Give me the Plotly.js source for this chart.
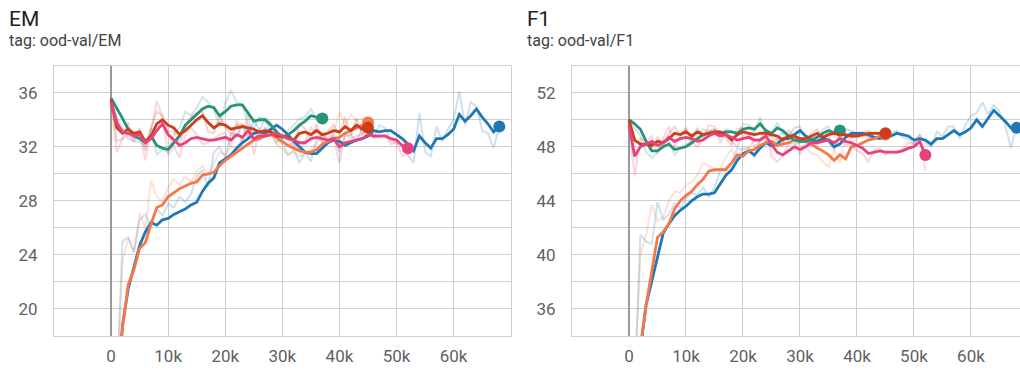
<!DOCTYPE html>
<html><head><meta charset="utf-8">
<script src="https://cdn.plot.ly/plotly-3.0.1.min.js"></script>
<style>html,body{margin:0;padding:0;background:#fff;}#chart{width:1020px;height:370px;}</style>
</head><body><div id="chart"></div>
<script>
// ---- data (steps in thousands, one value per 1k steps) ----
const runNames = ['blue', 'orange', 'teal', 'red', 'magenta'];
const runColors = {blue:'#2077b6', orange:'#f4794a', teal:'#27937b', red:'#cc3e1a', magenta:'#e8427a'};
const runStartK = {blue:1, orange:1, teal:0, red:0, magenta:0};

const xTickVals = [-10000,0,10000,20000,30000,40000,50000,60000,70000];
const xTickText = ['', '0','10k','20k','30k','40k','50k','60k',''];

// EM smoothed / raw
const emBlueS = [13.5,18.8,21.5,23.1,24.7,25.7,26.4,26.2,26.6,26.7,
27.0,27.2,27.4,27.7,27.9,28.7,29.3,29.7,30.8,31.1,
31.4,31.9,32.3,32.6,33.0,33.1,33.0,33.3,33.6,33.3,
32.9,32.4,32.0,31.6,31.5,31.5,31.9,32.3,32.5,32.4,
32.1,32.3,32.5,32.6,32.8,33.2,33.1,33.2,33.2,32.9,
32.6,32.2,31.7,32.8,32.3,31.9,32.6,32.6,32.9,33.3,
34.4,33.9,34.3,34.8,34.2,33.7,33.1,33.5];
const emBlueR = [14.0,25.0,25.3,24.2,26.6,27.0,26.1,27.4,26.9,27.8,
27.5,28.3,27.9,28.5,29.8,30.3,29.0,31.6,32.0,31.2,
33.0,32.8,33.6,32.6,34.0,33.2,34.1,33.8,32.6,32.2,
31.4,31.8,30.8,31.6,30.9,32.6,32.9,32.3,33.0,31.6,
32.8,32.9,32.4,33.4,33.8,32.7,33.6,33.4,32.4,32.3,
32.0,31.4,30.8,34.5,31.6,31.3,33.5,32.4,33.3,34.0,
36.1,33.6,35.3,35.0,33.2,33.0,31.9,33.5];
const emOrangeS = [13.5,18.6,21.8,22.9,24.5,24.9,26.3,27.5,27.7,28.3,
28.6,28.9,29.1,29.3,29.4,29.9,30.0,30.1,30.6,31.0,
31.3,31.6,31.9,32.2,32.5,32.6,32.8,32.9,32.7,32.4,
32.1,31.9,31.7,31.6,31.6,31.8,32.2,32.4,32.6,32.7,
33.0,33.2,33.4,33.6,33.8];
const emOrangeR = [14.5,23.5,25.2,24.2,27.1,25.9,29.5,28.3,28.0,29.0,
29.6,29.2,29.8,29.4,30.2,30.6,29.9,30.8,31.6,31.4,
32.0,31.9,32.6,32.9,33.0,32.6,33.4,33.1,32.2,31.8,
31.4,31.6,31.3,31.5,31.8,32.2,33.0,32.6,33.1,34.6,
33.6,34.4,33.9,34.1,33.8];
const emTealS = [35.6,34.9,34.1,33.3,32.8,32.6,32.3,32.8,32.1,31.9,
31.8,32.3,32.8,33.6,34.0,34.4,34.8,35.0,34.9,34.3,
34.6,35.0,35.1,35.1,34.5,33.9,34.0,34.0,33.6,33.1,
32.7,32.9,33.2,33.6,33.9,34.3,34.2,34.1];
const emTealR = [35.6,34.2,33.4,32.6,32.4,32.4,32.0,33.4,31.4,31.8,
31.6,33.0,33.4,34.6,34.3,34.9,35.7,35.3,34.8,33.5,
35.2,36.2,35.3,35.1,33.6,33.4,34.2,34.0,33.0,32.6,
32.3,33.2,33.6,34.1,34.2,34.8,34.0,34.1];
const emRedS = [35.5,33.4,33.0,33.3,33.0,33.1,32.4,32.8,33.7,34.0,
33.6,33.4,32.9,33.2,33.6,34.0,34.3,33.8,33.4,33.7,
33.6,33.3,33.4,33.5,33.4,33.3,33.1,33.2,33.1,32.8,
32.8,32.7,32.5,33.0,33.1,32.9,33.2,32.9,33.0,33.2,
33.1,33.5,33.2,33.6,33.3,33.4];
const emRedR = [35.5,32.4,32.6,33.8,32.5,33.4,31.7,33.4,34.6,34.3,
33.1,33.2,32.2,33.6,34.2,34.5,34.6,33.1,33.0,34.3,
33.4,32.9,33.6,33.7,33.2,33.1,32.7,33.4,32.9,32.3,
32.9,32.5,32.1,33.7,33.3,32.5,33.7,32.4,33.2,33.6,
32.9,34.2,32.8,34.1,32.9,33.5];
const emMagentaS = [35.3,33.8,33.1,33.0,32.8,32.9,32.3,32.6,33.2,33.7,
32.9,32.5,32.1,32.3,32.6,32.7,32.6,32.5,32.5,32.6,
32.7,32.5,32.9,32.7,33.2,32.6,32.8,32.8,32.9,33.0,
32.8,32.6,32.5,32.3,32.3,32.6,32.7,32.6,32.5,32.6,
32.0,32.3,32.4,32.5,32.6,32.9,32.8,32.8,32.8,32.6,
32.5,32.1,31.9];
const emMagentaR = [35.3,31.6,32.6,32.9,32.4,33.1,31.0,33.2,35.4,34.2,
31.4,32.0,31.2,32.9,33.4,32.9,32.2,32.3,32.6,32.9,
33.0,32.0,34.0,32.2,34.6,31.4,33.3,32.8,33.2,33.3,
32.3,32.1,32.3,31.8,32.4,33.4,32.9,32.3,32.4,32.8,
30.8,33.0,32.6,32.8,32.9,33.6,32.6,32.8,32.8,32.2,
32.3,31.3,31.5];

// F1 smoothed / raw
const f1BlueS = [28.0,33.0,36.3,38.1,39.9,41.6,42.3,42.9,43.3,43.6,
44.0,44.3,44.5,44.5,44.6,45.3,45.9,46.3,47.0,47.5,
47.7,47.4,47.9,48.3,48.1,48.2,48.6,48.6,48.9,49.2,
48.8,48.5,48.4,48.6,48.5,48.0,48.2,48.7,49.0,49.0,
49.0,48.9,48.7,48.6,48.7,48.8,49.0,48.9,48.8,48.5,
48.6,48.5,48.2,48.6,48.6,48.9,49.2,48.9,49.1,49.4,
50.0,49.5,50.1,50.7,50.3,49.9,49.4,49.4];
const f1BlueR = [30.0,41.5,41.0,40.8,43.9,42.6,43.0,43.8,43.5,44.2,
44.6,44.4,45.0,44.3,45.0,46.2,46.5,46.8,47.9,47.8,
47.9,47.2,48.6,48.7,48.0,48.6,49.1,48.8,49.4,49.5,
48.4,48.3,48.6,48.9,48.3,47.8,48.7,49.3,49.2,49.0,
49.1,48.7,48.5,48.7,48.9,49.0,49.2,48.7,48.6,48.2,
48.9,48.3,48.0,49.1,48.8,49.5,49.5,48.6,49.6,50.3,
50.5,51.3,50.4,51.1,50.6,49.6,47.9,49.6];
const f1OrangeS = [28.0,33.2,36.3,38.8,41.3,41.7,42.3,43.4,44.0,44.4,
44.7,45.2,45.6,46.2,46.3,46.3,46.3,46.8,47.4,47.3,
47.7,47.8,48.1,48.3,48.4,48.1,48.2,48.3,48.5,48.6,
48.4,48.2,47.9,47.7,47.4,47.0,47.4,47.1,48.0,48.1,
48.3,48.5,48.6,48.8,48.9];
const f1OrangeR = [31.0,40.0,41.5,43.7,42.5,42.8,44.0,44.7,44.6,45.2,
45.4,45.9,46.8,46.6,46.2,46.4,47.2,47.8,47.1,48.0,
47.9,48.5,48.6,48.5,47.9,48.4,48.6,48.8,48.7,48.1,
48.0,47.5,47.4,46.9,46.5,47.8,46.8,48.9,48.3,48.6,
48.8,48.7,49.1,49.0,48.9];
const f1TealS = [50.0,49.7,49.3,48.4,47.7,47.7,48.0,48.2,47.8,47.9,
48.0,48.3,48.6,48.9,49.0,49.1,49.0,49.1,49.1,49.0,
49.3,49.4,49.3,49.7,49.2,49.0,49.4,49.2,48.8,48.5,
48.4,48.4,48.5,48.7,49.0,49.2,49.0,49.2];
const f1TealR = [50.0,49.4,48.8,47.6,47.2,47.6,48.4,48.4,47.4,47.9,
48.1,48.7,48.9,49.3,49.1,49.3,48.8,49.3,49.2,48.8,
49.7,49.6,49.1,50.2,48.8,48.8,49.8,49.0,48.3,48.2,
48.3,48.4,48.7,48.9,49.3,49.5,48.8,49.3];
const f1RedS = [50.0,48.5,48.2,48.2,48.1,48.4,48.3,48.6,49.0,48.9,
49.1,48.8,49.1,48.9,49.0,49.1,49.1,48.9,48.5,48.9,
49.1,49.0,48.9,49.0,49.0,48.9,48.8,48.5,48.8,48.8,
48.6,48.6,48.8,49.0,48.7,48.9,49.0,48.9,48.9,48.8,
48.8,48.9,49.0,49.0,49.0,49.0];
const f1RedR = [50.0,47.6,48.0,48.3,47.9,48.7,48.1,49.0,49.5,48.8,
49.4,48.5,49.4,48.7,49.2,49.3,49.1,48.6,48.1,49.3,
49.4,48.9,48.8,49.1,49.1,48.7,48.6,48.1,49.2,48.8,
48.3,48.6,49.0,49.3,48.4,49.1,49.2,48.7,48.9,48.6,
48.8,49.0,49.2,49.0,48.9,49.0];
const f1MagentaS = [49.6,47.3,48.0,48.2,48.4,48.1,48.3,48.7,48.4,48.6,
48.7,48.6,48.4,48.5,48.8,49.0,48.8,48.9,48.7,48.5,
48.6,48.7,48.5,48.5,48.8,48.2,47.6,47.4,47.7,48.0,
47.8,48.0,48.3,48.3,48.4,48.5,48.3,48.6,48.4,48.3,
48.1,47.9,47.5,47.6,47.7,47.6,47.6,47.6,47.7,47.9,
48.0,48.4,47.4];
const f1MagentaR = [49.6,45.8,48.6,48.4,48.8,47.5,48.6,49.5,48.0,48.9,
49.3,48.4,48.0,48.6,49.6,49.5,48.3,49.2,48.4,48.0,
48.8,49.0,48.0,48.4,49.4,47.3,46.9,47.3,48.2,48.5,
47.4,48.3,48.8,48.1,48.7,48.8,47.9,49.0,48.1,48.2,
47.7,47.5,46.9,47.8,47.9,47.4,47.6,47.5,47.9,48.3,
48.2,48.9,46.2];

const emData = {
  blue:[emBlueS, emBlueR], orange:[emOrangeS, emOrangeR], teal:[emTealS, emTealR],
  red:[emRedS, emRedR], magenta:[emMagentaS, emMagentaR]
};
const f1Data = {
  blue:[f1BlueS, f1BlueR], orange:[f1OrangeS, f1OrangeR], teal:[f1TealS, f1TealR],
  red:[f1RedS, f1RedR], magenta:[f1MagentaS, f1MagentaR]
};

function stepsFor(run, n) {
  const out = [];
  for (let i = 0; i < n; i++) out.push((runStartK[run] + i) * 1000);
  return out;
}

const traces = [];
function addPanel(data, xa, ya) {
  // raw (faint) first
  runNames.forEach(r => {
    const raw = data[r][1];
    traces.push({x: stepsFor(r, raw.length), y: raw, xaxis: xa, yaxis: ya, type: 'scatter', mode: 'lines',
      line: {color: runColors[r], width: 2}, opacity: 0.22, hoverinfo: 'skip', showlegend: false});
  });
  runNames.forEach(r => {
    const sm = data[r][0];
    const xs = stepsFor(r, sm.length);
    traces.push({x: xs, y: sm, xaxis: xa, yaxis: ya, type: 'scatter', mode: 'lines',
      line: {color: runColors[r], width: 2.8}, hoverinfo: 'skip', showlegend: false});
    traces.push({x: [xs[xs.length - 1]], y: [sm[sm.length - 1]], xaxis: xa, yaxis: ya, type: 'scatter', mode: 'markers',
      marker: {color: runColors[r], size: 12}, hoverinfo: 'skip', showlegend: false});
  });
}
addPanel(emData, 'x', 'y');
addPanel(f1Data, 'x2', 'y2');

const gridC = '#cfcfcf';
const tickFont = {family: 'Roboto, sans-serif', size: 17, color: '#616161'};
function xAxis(domain, range, anchor) {
  return {domain: domain, range: range, anchor: anchor, tickvals: xTickVals, ticktext: xTickText,
    showgrid: true, gridcolor: gridC, gridwidth: 1, zeroline: true, zerolinecolor: '#9a9a9a', zerolinewidth: 2,
    showline: true, mirror: true, linecolor: gridC, linewidth: 1, ticks: '', tickfont: tickFont,
    ticklabelstandoff: 5, fixedrange: true};
}
function yAxis(range, anchor) {
  return {domain: [1 - 336/370, 1 - 65.7/370], range: range, anchor: anchor, dtick: 4, tick0: 0,
    showgrid: true, gridcolor: gridC, gridwidth: 1, zeroline: false,
    minor: {dtick: 2, tick0: 0, showgrid: true, gridcolor: gridC, gridwidth: 1, ticks: ''},
    showline: true, mirror: true, linecolor: gridC, linewidth: 1, ticks: '', tickfont: tickFont,
    ticklabelstandoff: 12, fixedrange: true};
}

const titleFont = {family: 'Roboto, sans-serif', size: 21, color: '#212121'};
const tagFont = {family: 'Roboto, sans-serif', size: 16, color: '#424242'};
const layout = {
  width: 1020, height: 370, margin: {l: 0, r: 0, t: 0, b: 0},
  paper_bgcolor: '#ffffff', plot_bgcolor: '#ffffff', showlegend: false, hovermode: false,
  xaxis: xAxis([54/1020, 510.7/1020], [-10000, 70000], 'y'),
  yaxis: yAxis([18, 38], 'x'),
  xaxis2: xAxis([572/1020, 1], [-10000, 68600], 'y2'),
  yaxis2: yAxis([34, 54], 'x2'),
  annotations: [
    {text: 'EM', xref: 'paper', yref: 'paper', x: 7/1020, y: 1 - 5/370, xanchor: 'left', yanchor: 'top', showarrow: false, font: titleFont},
    {text: 'tag: ood-val/EM', xref: 'paper', yref: 'paper', x: 7/1020, y: 1 - 29/370, xanchor: 'left', yanchor: 'top', showarrow: false, font: tagFont},
    {text: 'F1', xref: 'paper', yref: 'paper', x: 525/1020, y: 1 - 5/370, xanchor: 'left', yanchor: 'top', showarrow: false, font: titleFont},
    {text: 'tag: ood-val/F1', xref: 'paper', yref: 'paper', x: 525/1020, y: 1 - 29/370, xanchor: 'left', yanchor: 'top', showarrow: false, font: tagFont}
  ]
};
Plotly.newPlot('chart', traces, layout, {displayModeBar: false, staticPlot: true});
</script></body></html>
